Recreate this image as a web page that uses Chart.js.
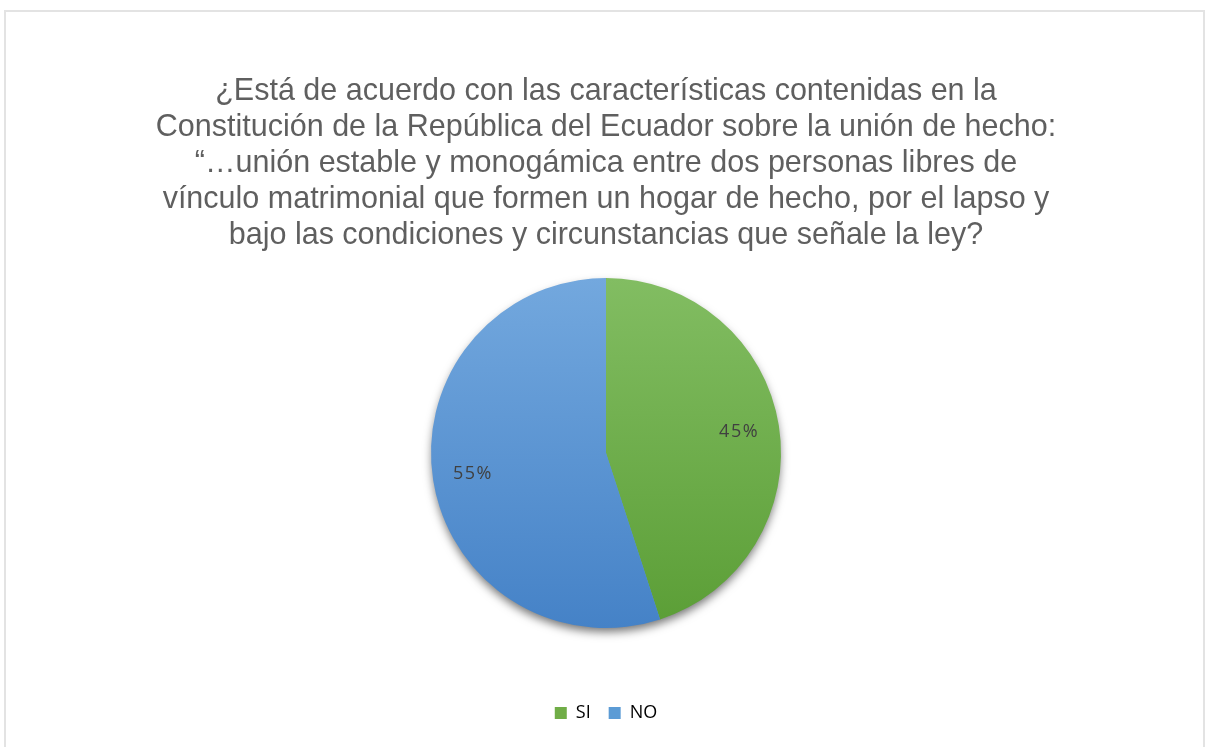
<!DOCTYPE html>
<html>
<head>
<meta charset="utf-8">
<script src="https://cdn.jsdelivr.net/npm/chart.js@4"></script>
<style>
  html, body { margin: 0; padding: 0; background: #fff; overflow: hidden; }
  #frame { position: absolute; left: 4px; top: 10px; width: 1201px; height: 800px; border: 2px solid #e3e3e3; box-sizing: border-box; }
  #wrap { position: absolute; left: 0; top: 0; width: 1205px; height: 747px; }
</style>
</head>
<body>
<div id="frame"></div>
<div id="wrap"><canvas id="myChart" width="1205" height="747"></canvas></div>
<script>
const labels = ['SI', 'NO'];
const values = [45, 55];
const flatColors = ['#70ad47', '#5b9bd5'];
const topColors = ['#82bd62', '#73a8de'];
const bottomColors = ['#5b9e36', '#4582c7'];
const titleLines = [
  '¿Está de acuerdo con las características contenidas en la',
  'Constitución de la República del Ecuador sobre la unión de hecho:',
  '“…unión estable y monogámica entre dos personas libres de',
  'vínculo matrimonial que formen un hogar de hecho, por el lapso y',
  'bajo las condiciones y circunstancias que señale la ley?'
];

const R = 175;

// vertical gradient per slice, like the office style fill
function sliceFill(context) {
  const chart = context.chart;
  const area = chart.chartArea;
  if (!area) return flatColors[context.dataIndex];
  const cy = (area.top + area.bottom) / 2;
  const g = chart.ctx.createLinearGradient(0, cy - R, 0, cy + R);
  g.addColorStop(0, topColors[context.dataIndex]);
  g.addColorStop(1, bottomColors[context.dataIndex]);
  return g;
}

// soft shadow under the whole pie
const pieShadow = {
  id: 'pieShadow',
  beforeDatasetsDraw(chart) {
    const arc = chart.getDatasetMeta(0).data[0];
    if (!arc) return;
    const ctx = chart.ctx;
    ctx.save();
    ctx.shadowColor = 'rgba(0,0,0,0.55)';
    ctx.shadowBlur = 10;
    ctx.shadowOffsetY = 5;
    ctx.beginPath();
    ctx.arc(arc.x, arc.y, arc.outerRadius - 1, 0, Math.PI * 2);
    ctx.fillStyle = '#5b9bd5';
    ctx.fill();
    ctx.restore();
  }
};

// percentage labels inside the slices
const pctLabels = {
  id: 'pctLabels',
  afterDatasetsDraw(chart) {
    const ctx = chart.ctx;
    const total = values.reduce((a, b) => a + b, 0);
    ctx.save();
    ctx.font = '18px "Open Sans", "Noto Sans", sans-serif';
    ctx.letterSpacing = '1.5px';
    ctx.fillStyle = '#404040';
    ctx.textAlign = 'center';
    ctx.textBaseline = 'middle';
    chart.getDatasetMeta(0).data.forEach((arc, i) => {
      const mid = (arc.startAngle + arc.endAngle) / 2;
      const d = arc.outerRadius * 0.77;
      const pct = Math.round(values[i] / total * 100) + '%';
      ctx.fillText(pct, arc.x + Math.cos(mid) * d, arc.y + Math.sin(mid) * d);
    });
    ctx.restore();
  }
};

const ctx = document.getElementById('myChart').getContext('2d');

const myPie = new Chart(ctx, {
  type: 'pie',
  data: {
    labels: labels,
    datasets: [{
      data: values,
      backgroundColor: sliceFill,
      borderWidth: 0
    }]
  },
  options: {
    responsive: false,
    animation: false,
    radius: R,
    layout: { padding: { left: 7, right: 0, top: 0, bottom: 15 } },
    plugins: {
      title: {
        display: true,
        text: titleLines,
        color: '#5f5f5f',
        font: { family: '"Liberation Sans", Arial, sans-serif', size: 30.5, weight: 'normal', lineHeight: 1.18 },
        padding: { top: 73.5, bottom: -33.5 }
      },
      legend: {
        position: 'bottom',
        labels: {
          boxWidth: 12,
          boxHeight: 12,
          padding: 18,
          color: '#595959',
          font: { family: '"Open Sans", "Noto Sans", sans-serif', size: 18 },
          generateLabels(chart) {
            return labels.map((l, i) => ({
              text: l,
              fillStyle: flatColors[i],
              strokeStyle: flatColors[i],
              lineWidth: 0,
              hidden: false,
              index: i
            }));
          }
        }
      },
      tooltip: { enabled: false }
    }
  },
  plugins: [pieShadow, pctLabels]
});
</script>
</body>
</html>
